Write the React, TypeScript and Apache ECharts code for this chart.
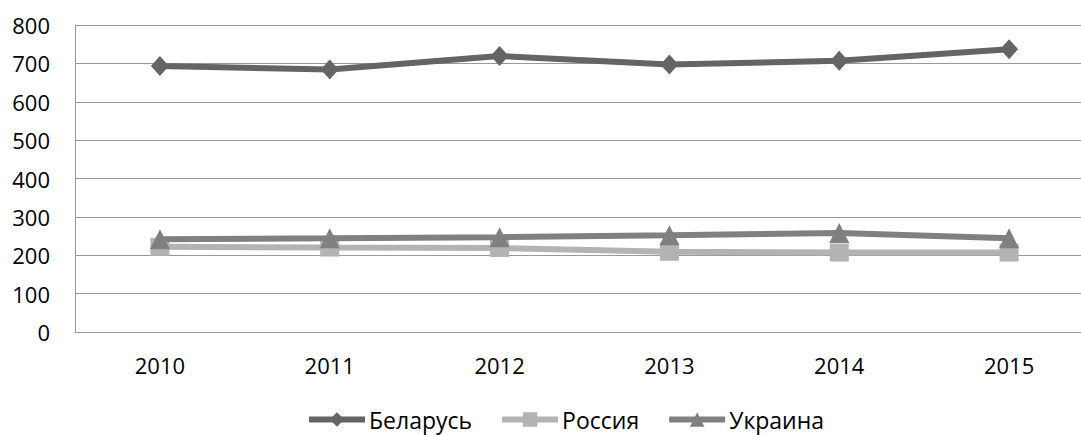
import React, { useEffect, useRef } from "react";
import * as echarts from "echarts";

const years = ["2010", "2011", "2012", "2013", "2014", "2015"];
const belarus = [693, 684, 719, 697, 707, 737];
const russia = [222, 220, 219, 209, 207, 207];
const ukraine = [242, 244, 247, 252, 258, 244];
const seriesNames = ["Беларусь", "Россия", "Украина"];

const FONT = "Open Sans";

export default function App() {
  const ref = useRef<HTMLDivElement>(null);
  useEffect(() => {
    if (!ref.current) return;
    const chart = echarts.init(ref.current, null, { renderer: "svg" });
    chart.setOption({
      animation: false,
      backgroundColor: "#ffffff",
      grid: {
        left: 75,
        width: 1019,
        top: 25,
        bottom: 103,
        containLabel: false,
        outerBoundsMode: "none",
      },
      legend: {
        left: 301,
        top: 403,
        itemWidth: 56,
        itemHeight: 18,
        itemGap: 27,
        lineStyle: { width: 6 },
        textStyle: { fontFamily: FONT, fontSize: 23, color: "#000", padding: [0, 0, 0, -1] },
        data: seriesNames,
      },
      xAxis: {
        type: "category",
        data: years,
        boundaryGap: true,
        axisLine: { show: true, lineStyle: { color: "#9a9a9a", width: 1 } },
        axisTick: { show: false },
        axisLabel: { fontFamily: FONT, fontSize: 22, color: "#000", margin: 22 },
        splitLine: { show: false },
      },
      yAxis: {
        type: "value",
        min: 0,
        max: 800,
        interval: 100,
        axisLine: { show: true, lineStyle: { color: "#9a9a9a", width: 1 } },
        axisTick: { show: false },
        axisLabel: { fontFamily: FONT, fontSize: 22, color: "#000", margin: 25 },
        splitLine: { show: true, lineStyle: { color: "#9a9a9a", width: 1 } },
      },
      series: [
        {
          name: seriesNames[0],
          type: "line",
          data: belarus,
          symbol: "diamond",
          symbolSize: [18, 20],
          lineStyle: { color: "#646464", width: 6 },
          itemStyle: { color: "#646464" },
          z: 3,
        },
        {
          name: seriesNames[1],
          type: "line",
          data: russia,
          symbol: "rect",
          symbolSize: [19, 18],
          lineStyle: { color: "#b3b3b3", width: 6 },
          itemStyle: { color: "#b3b3b3" },
          z: 1,
        },
        {
          name: seriesNames[2],
          type: "line",
          data: ukraine,
          symbol: "triangle",
          symbolSize: [20, 20],
          lineStyle: { color: "#808080", width: 6 },
          itemStyle: { color: "#808080" },
          z: 2,
        },
      ],
    });
    return () => chart.dispose();
  }, []);
  return (
    <div
      ref={ref}
      style={{ position: "fixed", left: 0, top: 0, width: 1081, height: 435, background: "#fff" }}
    />
  );
}
